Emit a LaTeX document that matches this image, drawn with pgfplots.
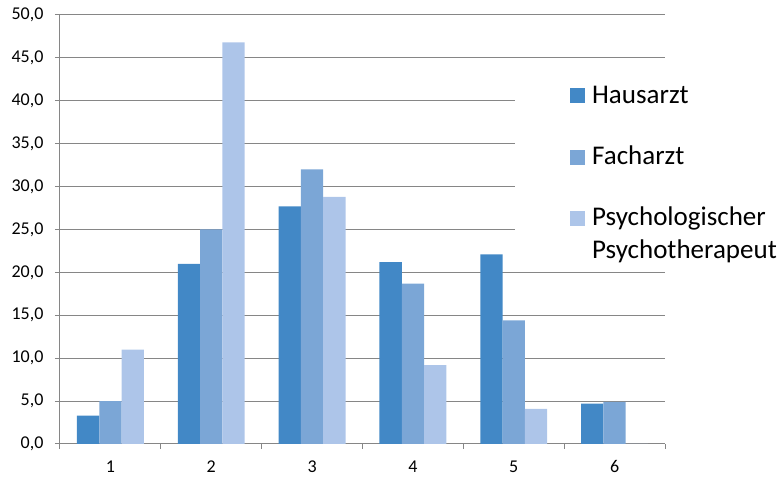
\documentclass[border=0pt]{standalone}
\usepackage{pgfplots}
\pgfplotsset{compat=1.18}
\usepackage{fontspec}
\setmainfont{Carlito}
\definecolor{c1}{RGB}{66,136,198}
\definecolor{c2}{RGB}{123,166,214}
\definecolor{c3}{RGB}{173,197,233}
\definecolor{gridc}{RGB}{134,134,134}
\begin{document}
\begin{tikzpicture}
\begin{axis}[
  scale only axis, width=605pt, height=429pt,
  xmin=0.5, xmax=6.5, ymin=0, ymax=50,
  ybar=0pt, bar width=22.3pt,
  axis x line*=bottom, axis y line*=left,
  axis line style={draw=gridc, line width=1pt},
  ytick={0,5,...,50},
  ymajorgrids, grid style={draw=gridc, line width=1pt},
  xtick={0.5,1.5,...,6.5},
  xticklabel={\pgfmathtruncatemacro\lab{\tick+0.5}\ifnum\lab<7 \lab\fi},
  xticklabel style={font=\fontsize{18}{20}\selectfont, xshift=50.4pt, yshift=-8pt},
  yticklabel style={font=\fontsize{18}{20}\selectfont, xshift=-8pt},
  /pgf/number format/.cd, fixed, fixed zerofill, precision=1, use comma, assume math mode=true,
  /pgfplots/.cd,
  tick align=outside, major tick length=5pt,
  tick style={draw=gridc, line width=1pt},
  legend style={at={(0.752,0.844)}, anchor=north west, draw=none, fill=white,
    inner xsep=55pt, inner ysep=2pt,
    font=\fontsize{27}{33}\selectfont,
    cells={anchor=base west}, row sep=37pt},
  legend image code/.code={\fill[#1] (0pt,0pt) rectangle (15pt,15pt); \path (20pt,0pt);},
]
\addplot[fill=c1, draw=none] coordinates {(1,3.3) (2,21.0) (3,27.7) (4,21.2) (5,22.1) (6,4.7)};
\addlegendentry{Hausarzt}
\addplot[fill=c2, draw=none] coordinates {(1,5.0) (2,25.0) (3,32.0) (4,18.7) (5,14.4) (6,4.9)};
\addlegendentry{Facharzt}
\addplot[fill=c3, draw=none] coordinates {(1,11.0) (2,46.8) (3,28.8) (4,9.2) (5,4.1) (6,0)};
\addlegendentry{\vtop{\baselineskip=33pt\hbox{Psychologischer}\hbox{Psychotherapeut}}}
\end{axis}
\pgfresetboundingbox
\useasboundingbox (-60pt,-34pt) rectangle (721pt,444pt);
\end{tikzpicture}
\end{document}
